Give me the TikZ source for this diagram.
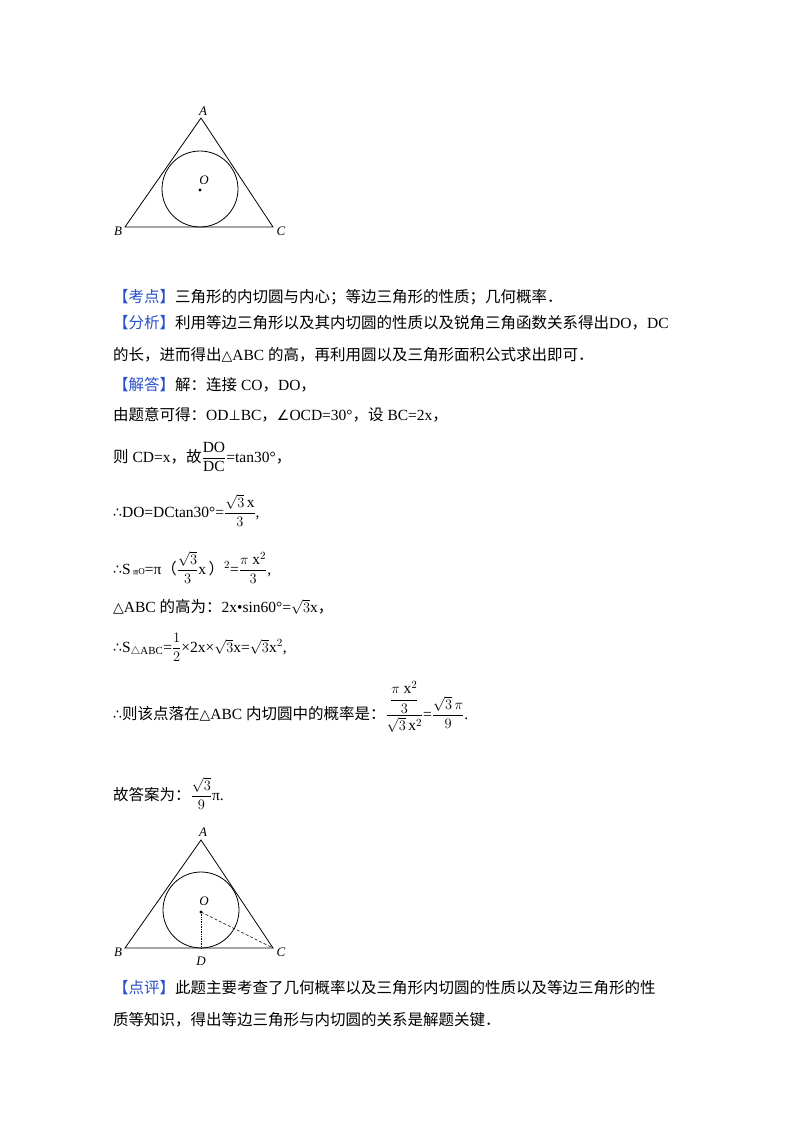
\documentclass[tikz,border=0pt]{standalone}
\usepackage{amsmath}
\usepackage{fontspec}
\setmainfont{Liberation Serif}
\newfontfamily\cjk{Noto Sans CJK SC}
\newfontfamily\symf{DejaVu Sans}
\definecolor{tagblue}{RGB}{40,80,200}
\newcommand{\mytag}[1]{\textcolor{tagblue}{\cjk 【#1】}}
\newcommand{\sy}[1]{{\symf\fontsize{14}{16}\selectfont #1}}
\begin{document}
\begin{tikzpicture}[x=1pt,y=-1pt,
  line/.style={anchor=base west,inner sep=0pt,font=\fontsize{15.5}{18}\selectfont},
  edge/.style={line width=0.8pt},
  lab/.style={font=\itshape\fontsize{13}{14}\selectfont,inner sep=0pt}]
\useasboundingbox (0,0) rectangle (800,1132);
% top figure
\coordinate (A1) at (201,118); \coordinate (B1) at (125,227); \coordinate (C1) at (273,227);
\draw[edge] (A1)--(B1)--(C1)--cycle;
\draw[edge] (200,189) circle (38);
\fill (200,190) circle (1.6);
\node[lab] (la1) at (203,111) {A};
\node[lab] (lb1) at (118,231) {B};
\node[lab] (lc1) at (281,231) {C};
\node[lab] (lo1) at (204,180) {O};
% text
\node[line] (t1) at (113,302) {\mytag{考点}{\cjk 三角形的内切圆与内心；等边三角形的性质；几何概率．}};
\node[line] (t2) at (113,328) {\mytag{分析}{\cjk 利用等边三角形以及其内切圆的性质以及锐角三角函数关系得出}DO{\cjk ，}DC};
\node[line] (t3) at (113,360) {{\cjk 的长，进而得出}\sy{△}ABC {\cjk 的高，再利用圆以及三角形面积公式求出即可．}};
\node[line] (t4) at (113,390) {\mytag{解答}{\cjk 解：连接} CO{\cjk ，}DO{\cjk ，}};
\node[line] (t5) at (113,420) {{\cjk 由题意可得：}OD\sy{⊥}BC{\cjk ，}\sy{∠}OCD=30°{\cjk ，设} BC=2x{\cjk ，}};
\node[line] (t6) at (113,462) {{\cjk 则} CD=x{\cjk ，故}$\dfrac{\mathrm{DO}}{\mathrm{DC}}$=tan30°{\cjk ，}};
\node[line] (t7) at (113,517) {\sy{∴}DO=DCtan30°=$\dfrac{\sqrt{3}\,\mathrm{x}}{3}$,};
\node[line] (t8) at (113,574) {\sy{∴}S\,{\tiny\cjk 圆}{\small O}=π{\cjk（}$\dfrac{\sqrt{3}}{3}\mathrm{x}$\,{\cjk ）}$^{2}$=$\dfrac{\pi\ \mathrm{x}^{2}}{3}$,};
\node[line] (t9) at (113,612) {\sy{△}ABC {\cjk 的高为：}2x•sin60°=$\sqrt{3}$x{\cjk ，}};
\node[line] (t10) at (113,652) {\sy{∴}S$_{\triangle\mathrm{ABC}}$=$\dfrac{1}{2}$×2x×$\sqrt{3}$x=$\sqrt{3}$x$^{2}$,};
\node[line] (t11) at (113,719) {\sy{∴}{\cjk 则该点落在}\sy{△}ABC {\cjk 内切圆中的概率是：}$\dfrac{\dfrac{\pi\ \mathrm{x}^{2}}{3}}{\sqrt{3}\,\mathrm{x}^{2}}$=$\dfrac{\sqrt{3}\,\pi}{9}$.};
\node[line] (t12) at (113,800) {{\cjk 故答案为：}$\dfrac{\sqrt{3}}{9}$π.};
% bottom figure
\coordinate (A2) at (201,840); \coordinate (B2) at (125,948); \coordinate (C2) at (273,948);
\coordinate (O2) at (201,912); \coordinate (D2) at (201,948);
\draw[edge] (A2)--(B2)--(C2)--cycle;
\draw[edge] (201,910) circle (38);
\draw[densely dotted,line width=0.7pt] (O2)--(D2);
\draw[densely dashed,line width=0.6pt] (O2)--(C2);
\fill (O2) circle (1.6);
\node[lab] (la2) at (203,832) {A};
\node[lab] (lb2) at (118,952) {B};
\node[lab] (lc2) at (281,952) {C};
\node[lab] (lo2) at (204,901) {O};
\node[lab] (ld2) at (201,961) {D};
\node[line] (t13) at (113,993) {\mytag{点评}{\cjk 此题主要考查了几何概率以及三角形内切圆的性质以及等边三角形的性}};
\node[line] (t14) at (113,1025) {{\cjk 质等知识，得出等边三角形与内切圆的关系是解题关键．}};
\end{tikzpicture}
\end{document}
